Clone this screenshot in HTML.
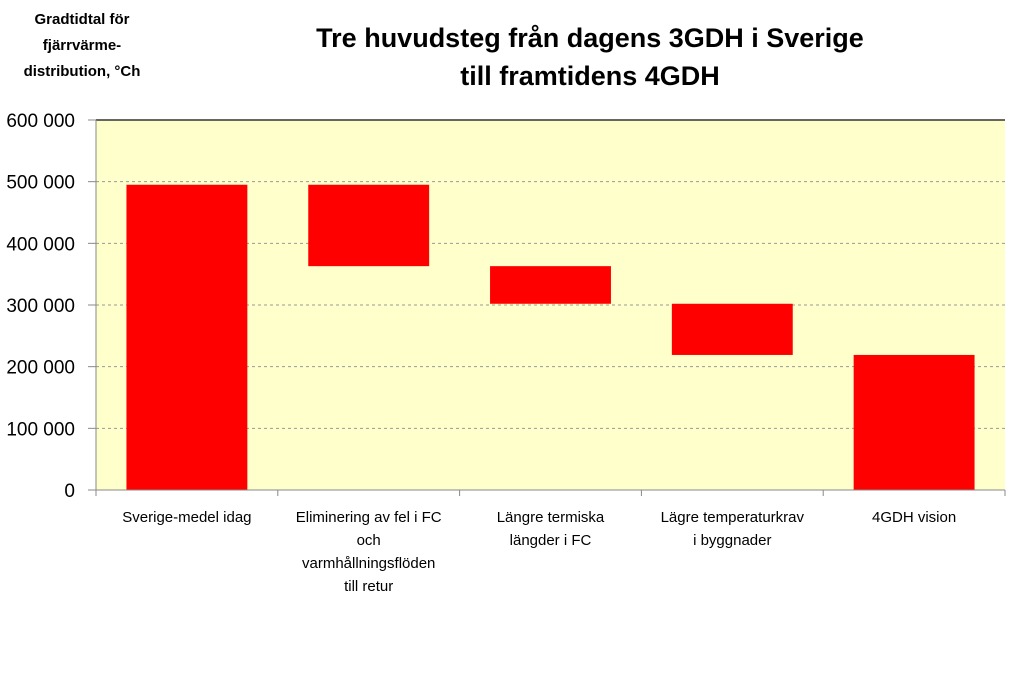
<!DOCTYPE html>
<html><head><meta charset="utf-8"><style>
body{margin:0;background:#fff;width:1024px;height:669px;overflow:hidden;font-family:"Liberation Sans",sans-serif;}
</style></head><body>
<svg id="chart" width="1024" height="669" xmlns="http://www.w3.org/2000/svg" font-family="Liberation Sans, sans-serif">
<text x="590" y="47" font-size="27" font-weight="bold" text-anchor="middle">Tre huvudsteg från dagens 3GDH i Sverige</text>
<text x="590" y="85" font-size="27" font-weight="bold" text-anchor="middle">till framtidens 4GDH</text>
<g font-size="15" font-weight="bold" text-anchor="middle">
<text x="82" y="24">Gradtidtal för</text>
<text x="82" y="50">fjärrvärme-</text>
<text x="82" y="76">distribution, °Ch</text>
</g>
<rect x="96" y="120" width="909" height="370" fill="#FFFFCC"/>
<g id="grid"></g>
<g id="bars"></g>
<g id="axes"></g>
</svg>
<script>
const categories=[["Sverige-medel idag"],["Eliminering av fel i FC","och","varmhållningsflöden","till retur"],["Längre termiska","längder i FC"],["Lägre temperaturkrav","i byggnader"],["4GDH vision"]];
const barTops=[495000,495000,363000,302000,219000];
const barBottoms=[0,363000,302000,219000,0];
const tickValues=[0,100000,200000,300000,400000,500000,600000];
const tickLabels=["0","100 000","200 000","300 000","400 000","500 000","600 000"];
const NS="http://www.w3.org/2000/svg";
const X0=96,X1=1005,Y0=490,Y1=120,MAX=600000;
const y=v=>Y0-(v/MAX)*(Y0-Y1);
const band=(X1-X0)/categories.length;
const x=i=>X0+band*i;
function mk(t,a,p){const e=document.createElementNS(NS,t);for(const k in a)e.setAttribute(k,a[k]);p.appendChild(e);return e;}
const grid=document.getElementById('grid'),bars=document.getElementById('bars'),axes=document.getElementById('axes');
tickValues.forEach((v,i)=>{
  if(v>0&&v<MAX){const g=mk('line',{x1:X0,x2:X1,y1:y(v),y2:y(v),stroke:'#999','stroke-dasharray':'3,3'},grid);
  
  }
  const t=mk('line',{x1:X0-8,x2:X0,y1:y(v),y2:y(v),stroke:'#888'},axes);
  
  
  const l=mk('text',{x:75,y:y(v)+7,'font-size':19,'text-anchor':'end'},axes);
  l.textContent=tickLabels[i];
  
  
});
const bw=band*0.665;
barTops.forEach((t,i)=>{
  const r=mk('rect',{x:x(i)+(band-bw)/2,y:y(t),width:bw,height:y(barBottoms[i])-y(t),fill:'#FF0000'},bars);
  
  
  categories[i].forEach((s,j)=>{
    const c=mk('text',{x:x(i)+band/2,y:522+j*23,'font-size':15,'text-anchor':'middle'},axes);
    c.textContent=s;
    
    
  });
});
const topBorder=mk('line',{x1:X0,x2:X1,y1:Y1,y2:Y1,stroke:'#333','stroke-width':1.5},axes);


const ya=mk('line',{x1:X0,x2:X0,y1:Y1,y2:Y0,stroke:'#888'},axes);


const xa=mk('line',{x1:X0,x2:X1,y1:Y0,y2:Y0,stroke:'#888'},axes);


for(let i=0;i<=categories.length;i++){
  const t=mk('line',{x1:x(i),x2:x(i),y1:Y0,y2:Y0+6,stroke:'#888'},axes);
  
  
}
</script>
</body></html>
